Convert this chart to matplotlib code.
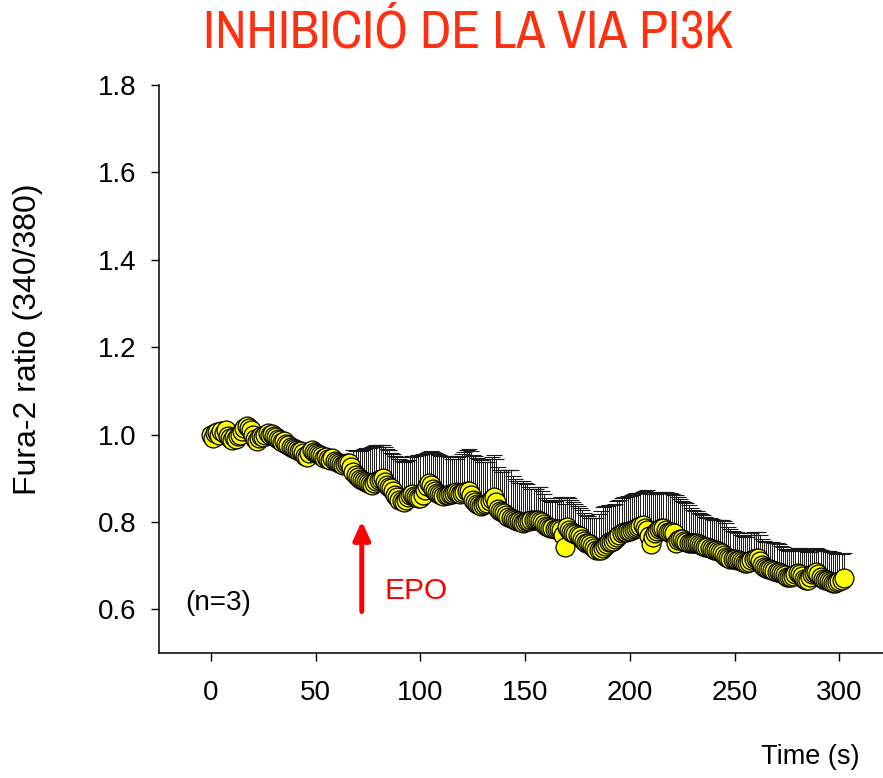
import numpy as np
import matplotlib
matplotlib.use("Agg")
import matplotlib.pyplot as plt
from matplotlib.patches import ArrowStyle
from matplotlib import font_manager

plt.rcParams['font.family'] = ['Liberation Sans', 'DejaVu Sans']

# Fura-2 ratio time course (mean of n=3 cells), one sample per second
time_s = np.arange(0, 303)
ratio_mean = [
    1.000, 0.993, 1.004, 1.006, 0.998, 1.008, 1.003, 1.010, 0.996, 0.992,
    0.988, 0.994, 0.990, 0.997, 1.000, 1.008, 1.014, 1.020, 1.016, 1.010,
    0.998, 0.990, 0.985, 0.992, 0.996, 0.995, 1.000, 1.003, 0.998, 1.002,
    0.996, 0.994, 0.990, 0.988, 0.983, 0.985, 0.979, 0.975, 0.972, 0.969,
    0.968, 0.965, 0.963, 0.962, 0.958, 0.952, 0.948, 0.958, 0.964, 0.960,
    0.957, 0.955, 0.953, 0.950, 0.947, 0.949, 0.944, 0.942, 0.946, 0.940,
    0.937, 0.935, 0.933, 0.930, 0.932, 0.936, 0.935, 0.925, 0.914, 0.908,
    0.902, 0.899, 0.895, 0.893, 0.891, 0.889, 0.887, 0.884, 0.888, 0.893,
    0.897, 0.899, 0.900, 0.892, 0.885, 0.880, 0.877, 0.870, 0.862, 0.856,
    0.850, 0.847, 0.845, 0.851, 0.857, 0.862, 0.864, 0.860, 0.857, 0.855,
    0.854, 0.862, 0.872, 0.882, 0.889, 0.884, 0.876, 0.870, 0.867, 0.864,
    0.862, 0.860, 0.861, 0.861, 0.863, 0.865, 0.866, 0.868, 0.866, 0.864,
    0.866, 0.868, 0.870, 0.870, 0.862, 0.850, 0.845, 0.840, 0.838, 0.837,
    0.838, 0.840, 0.843, 0.848, 0.852, 0.856, 0.845, 0.830, 0.825, 0.822,
    0.820, 0.815, 0.811, 0.808, 0.806, 0.804, 0.803, 0.802, 0.800, 0.798,
    0.800, 0.802, 0.803, 0.804, 0.805, 0.804, 0.804, 0.803, 0.799, 0.795,
    0.791, 0.788, 0.787, 0.785, 0.784, 0.783, 0.783, 0.782, 0.770, 0.742,
    0.788, 0.782, 0.778, 0.775, 0.772, 0.770, 0.767, 0.762, 0.756, 0.751,
    0.751, 0.750, 0.746, 0.740, 0.736, 0.735, 0.735, 0.740, 0.746, 0.750,
    0.753, 0.755, 0.756, 0.760, 0.765, 0.770, 0.774, 0.776, 0.777, 0.779,
    0.780, 0.782, 0.784, 0.786, 0.788, 0.790, 0.792, 0.786, 0.781, 0.768,
    0.750, 0.765, 0.775, 0.780, 0.783, 0.785, 0.786, 0.782, 0.777, 0.776,
    0.776, 0.775, 0.752, 0.758, 0.762, 0.760, 0.757, 0.753, 0.752, 0.752,
    0.751, 0.751, 0.751, 0.749, 0.747, 0.745, 0.743, 0.742, 0.740, 0.738,
    0.736, 0.735, 0.733, 0.731, 0.728, 0.724, 0.720, 0.717, 0.716, 0.715,
    0.714, 0.713, 0.712, 0.710, 0.708, 0.706, 0.705, 0.708, 0.712, 0.716,
    0.717, 0.717, 0.710, 0.702, 0.697, 0.694, 0.693, 0.692, 0.690, 0.688,
    0.686, 0.685, 0.684, 0.681, 0.678, 0.675, 0.673, 0.674, 0.677, 0.680,
    0.682, 0.681, 0.676, 0.670, 0.666, 0.668, 0.674, 0.680, 0.684, 0.685,
    0.680, 0.674, 0.670, 0.668, 0.666, 0.664, 0.662, 0.661, 0.660, 0.662,
    0.665, 0.668, 0.671,
]

# Upper SEM, recorded from t = 68 s onwards
sem_start_s = 68
ratio_sem_upper = [
    0.050, 0.055,
    0.060, 0.064, 0.070, 0.074, 0.078, 0.080, 0.083, 0.087, 0.085, 0.082,
    0.080, 0.078, 0.076, 0.079, 0.082, 0.084, 0.080, 0.085, 0.088, 0.092,
    0.094, 0.092, 0.092, 0.088, 0.085, 0.086, 0.086, 0.090, 0.094, 0.098,
    0.100, 0.094, 0.084, 0.075, 0.071, 0.078, 0.084, 0.088, 0.088, 0.090,
    0.089, 0.090, 0.089, 0.089, 0.085, 0.080, 0.078, 0.077, 0.082, 0.086,
    0.089, 0.092, 0.095, 0.098, 0.100, 0.104, 0.106, 0.107, 0.106, 0.104,
    0.100, 0.097, 0.094, 0.095, 0.096, 0.098, 0.100, 0.096, 0.094, 0.092,
    0.098, 0.104, 0.108, 0.110, 0.100, 0.094, 0.090, 0.087, 0.090, 0.095,
    0.090, 0.084, 0.078, 0.072, 0.070, 0.072, 0.076, 0.077, 0.072, 0.068,
    0.064, 0.062, 0.060, 0.060, 0.064, 0.068, 0.072, 0.075, 0.080, 0.100,
    0.068, 0.073, 0.072, 0.070, 0.068, 0.066, 0.065, 0.065, 0.065, 0.064,
    0.062, 0.058, 0.062, 0.068, 0.074, 0.082, 0.090, 0.094, 0.090, 0.087,
    0.085, 0.084, 0.083, 0.082, 0.082, 0.081, 0.081, 0.081, 0.081, 0.080,
    0.080, 0.080, 0.080, 0.080, 0.078, 0.077, 0.076, 0.085, 0.092, 0.100,
    0.115, 0.100, 0.090, 0.086, 0.084, 0.083, 0.082, 0.086, 0.090, 0.090,
    0.088, 0.087, 0.109, 0.098, 0.090, 0.088, 0.089, 0.090, 0.086, 0.080,
    0.076, 0.074, 0.073, 0.072, 0.071, 0.070, 0.069, 0.068, 0.068, 0.068,
    0.068, 0.070, 0.072, 0.074, 0.076, 0.077, 0.077, 0.072, 0.068, 0.065,
    0.064, 0.063, 0.062, 0.061, 0.060, 0.060, 0.060, 0.062, 0.062, 0.060,
    0.059, 0.059, 0.060, 0.060, 0.059, 0.059, 0.061, 0.062, 0.063, 0.064,
    0.065, 0.064, 0.062, 0.061, 0.060, 0.060, 0.060, 0.060, 0.059, 0.059,
    0.059, 0.059, 0.062, 0.066, 0.068, 0.064, 0.058, 0.056, 0.055, 0.055,
    0.058, 0.062, 0.064, 0.066, 0.068, 0.069, 0.070, 0.070, 0.068, 0.065,
    0.061, 0.059, 0.057,
]

x_ticks = [0, 50, 100, 150, 200, 250, 300]
y_ticks = [0.6, 0.8, 1.0, 1.2, 1.4, 1.6, 1.8]
epo_time_s = 72


def narrow_title_font():
    """Return (FontProperties, size) for a condensed sans face if one is installed."""
    best = None
    for f in font_manager.fontManager.ttflist:
        name = f.name.lower()
        narrow = ('narrow' in name or 'condensed' in name
                  or str(f.stretch) in ('condensed', 'semi-condensed',
                                        'extra-condensed', 'ultra-condensed'))
        if not narrow or 'mono' in name or 'serif' in name and 'sans' not in name:
            continue
        if str(f.style) != 'normal' or f.weight not in (400, 'normal', 'regular', 'book'):
            continue
        score = 0 if 'narrow' in name else 1
        if best is None or score < best[0]:
            best = (score, f.fname)
    if best is not None:
        return font_manager.FontProperties(fname=best[1]), 38
    return font_manager.FontProperties(family=['Liberation Sans', 'DejaVu Sans']), 30


W, H = 883, 778
fig = plt.figure(figsize=(W / 100, H / 100), dpi=100)
ax = fig.add_axes([159 / W, 125 / H, 1 - 159 / W, (653 - 85) / H])

t = np.asarray(time_s, dtype=float)
m = np.asarray(ratio_mean)
t_err = t[sem_start_s:]
m_err = m[sem_start_s:]
e_up = np.asarray(ratio_sem_upper)

ax.errorbar(t_err, m_err, yerr=[np.zeros_like(e_up), e_up], fmt='none',
            ecolor='#1a1a1a', elinewidth=0.7, capsize=5.5, capthick=0.8,
            zorder=2)
ax.plot(t, m, linestyle='none', marker='o', markersize=13.6,
        markerfacecolor='#FFFF00', markeredgecolor='black',
        markeredgewidth=0.9, zorder=3)

ax.set_xlim(-24.8, 320.8)
ax.set_ylim(0.5, 1.8)
ax.set_xticks(x_ticks)
ax.set_xticklabels([str(v) for v in x_ticks])
ax.set_yticks(y_ticks)
ax.set_yticklabels([f"{v:.1f}" for v in y_ticks])

for side in ('top', 'right'):
    ax.spines[side].set_visible(False)
for side in ('left', 'bottom'):
    ax.spines[side].set_linewidth(1.1)
ax.tick_params(axis='both', direction='out', length=5.5, width=1.0,
               labelsize=20, color='black')
ax.tick_params(axis='y', pad=11)
ax.tick_params(axis='x', pad=14)

# EPO addition
ax.annotate('', xy=(epo_time_s, 0.802), xytext=(epo_time_s, 0.595),
            arrowprops=dict(arrowstyle=ArrowStyle('-|>', head_length=1.1,
                                                  head_width=0.5),
                            color='#FF0000', lw=3.6, shrinkA=0, shrinkB=0,
                            mutation_scale=10))
ax.text(83.0, 0.641, 'EPO', color='#FF0000', fontsize=21.5,
        ha='left', va='center')
ax.text(-12.4, 0.614, '(n=3)', color='black', fontsize=20,
        ha='left', va='center')

fig.text(28 / W, 1 - 339 / H, 'Fura-2 ratio (340/380)', rotation=90,
         fontsize=23, ha='center', va='center')
fig.text(810 / W, 1 - 757 / H, 'Time (s)', fontsize=19.5,
         ha='center', va='center')

title_font, title_size = narrow_title_font()
title_font.set_size(title_size)
fig.text(468 / W, 1 - 32 / H, 'INHIBICIÓ DE LA VIA PI3K',
         fontproperties=title_font, color='#FF3010',
         ha='center', va='center')

fig.savefig('out.png', dpi=100)
